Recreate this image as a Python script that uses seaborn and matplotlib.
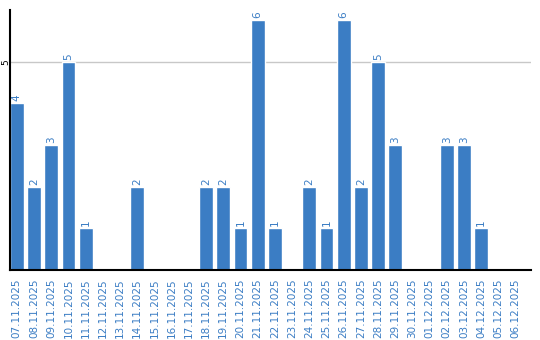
import matplotlib
matplotlib.use("Agg")
import matplotlib.pyplot as plt
import seaborn as sns
import pandas as pd

dates = ["07.11.2025", "08.11.2025", "09.11.2025", "10.11.2025", "11.11.2025",
         "12.11.2025", "13.11.2025", "14.11.2025", "15.11.2025", "16.11.2025",
         "17.11.2025", "18.11.2025", "19.11.2025", "20.11.2025", "21.11.2025",
         "22.11.2025", "23.11.2025", "24.11.2025", "25.11.2025", "26.11.2025",
         "27.11.2025", "28.11.2025", "29.11.2025", "30.11.2025", "01.12.2025",
         "02.12.2025", "03.12.2025", "04.12.2025", "05.12.2025", "06.12.2025"]
counts = [4, 2, 3, 5, 1, 0, 0, 2, 0, 0, 0, 2, 2, 1, 6, 1, 0, 2, 1, 6,
          2, 5, 3, 0, 0, 3, 3, 1, 0, 0]

df = pd.DataFrame({"date": dates, "count": counts})

sns.set_style("white")
plt.rcParams['font.family'] = ['DejaVu Sans']

blue = "#3b7dc4"
fig = plt.figure(figsize=(5.4, 3.4), dpi=100)
ax = fig.add_axes([0.0185, 0.206, 0.965, 0.764])
sns.barplot(data=df, x="date", y="count", color=blue, width=0.8,
            saturation=1, ax=ax, zorder=2)

for i, v in enumerate(counts):
    if v > 0:
        ax.text(i, v + 0.05, str(v), rotation=90, ha="center", va="bottom",
                color=blue, fontsize=7.5)

ax.set_xlim(-0.4, 29.9)
ax.set_ylim(0, 6.24)
ax.set_yticks([5])
ax.set_yticklabels(["5"], rotation=90, va="center", ha="right", fontsize=6.5,
                   color="black")
ax.yaxis.grid(True, color="#c8c8c8", linewidth=1, zorder=0)
ax.set_axisbelow(True)
ax.tick_params(axis="y", length=0, pad=0)
ax.tick_params(axis="x", length=0, pad=6, labelcolor=blue, labelsize=7.5)
plt.setp(ax.get_xticklabels(), rotation=90)
ax.set_xlabel("")
ax.set_ylabel("")
for s in ["top", "right"]:
    ax.spines[s].set_visible(False)
for s in ["left", "bottom"]:
    ax.spines[s].set_color("black")
    ax.spines[s].set_linewidth(1.5)

fig.savefig("out.png", dpi=100)
